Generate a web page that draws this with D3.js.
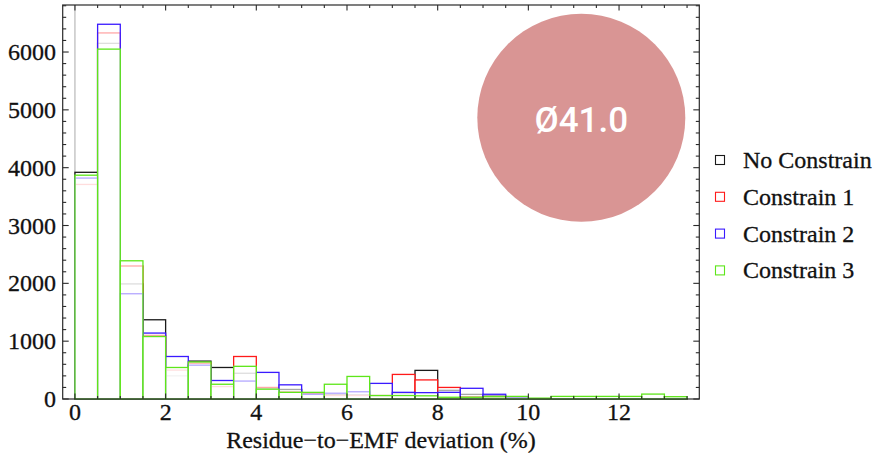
<!DOCTYPE html>
<html>
<head>
<meta charset="utf-8">
<script src="https://cdn.jsdelivr.net/npm/d3@7"></script>
<style>
  html, body { margin: 0; padding: 0; background: #fff; }
  svg { display: block; }
</style>
</head>
<body>
<svg id="chart" width="875" height="459"></svg>
<script>
// Histogram bins: left edges, width 0.5 (%)
const binStarts = [0, 0.5, 1, 1.5, 2, 2.5, 3, 3.5, 4, 4.5, 5, 5.5, 6, 6.5,
                   7, 7.5, 8, 8.5, 9, 9.5, 10, 10.5, 11, 11.5, 12, 12.5, 13];
const binWidth = 0.5;

// Counts per bin for each run
const noConstrain = [3920, 6150, 1990, 1370, 400, 655, 545, 445, 185, 165, 90, 80, 70, 50,
                     100, 495, 150, 80, 60, 30, 5, 5, 5, 5, 5, 5, 5];
const constrain1  = [3710, 6330, 2300, 1100, 500, 620, 215, 735, 200, 120, 85, 60, 60, 60,
                     425, 330, 200, 40, 20, 10, 5, 5, 5, 5, 5, 5, 5];
const constrain2  = [3820, 6480, 1820, 1140, 735, 585, 320, 310, 460, 245, 80, 100, 125, 270,
                     115, 110, 115, 185, 82, 20, 5, 5, 5, 5, 5, 5, 5];
const constrain3  = [3870, 6050, 2390, 1080, 545, 640, 255, 565, 170, 115, 115, 255, 390, 60,
                     60, 55, 30, 30, 40, 45, 15, 45, 45, 45, 45, 85, 40];

const seriesNames  = ["No Constrain", "Constrain 1", "Constrain 2", "Constrain 3"];
const seriesValues = [noConstrain, constrain1, constrain2, constrain3];
const seriesColors = ["#1a1a1a", "#ff1a1a", "#3a1aff", "#5ee61a"];

// Axis ticks
const xMajorTicks = [0, 2, 4, 6, 8, 10, 12];
const yMajorTicks = [0, 1000, 2000, 3000, 4000, 5000, 6000];

const badgeText = "Ø41.0";

const svg = d3.select("#chart");
const frame = { left: 62.7, right: 699.3, top: 5, bottom: 399 };

const x = d3.scaleLinear().domain([-0.27, 13.77]).range([frame.left, frame.right]);
const y = d3.scaleLinear().domain([0, 6813]).range([frame.bottom, frame.top]);

const serif = "'Liberation Serif', 'Times New Roman', serif";
const fontSize = 24;

// Serif label styling shared by ticks, title and legend
function serifText(sel) {
  return sel.attr("font-family", serif)
    .attr("font-size", fontSize)
    .attr("fill", "#111")
    .attr("stroke", "#111")
    .attr("stroke-width", 0.3);
}

// Vertical axis line at x = 0
svg.append("line")
  .attr("x1", x(0)).attr("x2", x(0))
  .attr("y1", frame.top).attr("y2", frame.bottom)
  .attr("stroke", "#b8b8b8").attr("stroke-width", 1.2);

// Histogram bars, drawn in series order; semi-opaque white faces dim the edges beneath
const barLayer = svg.append("g");
seriesValues.forEach((vals, si) => {
  barLayer.append("g")
    .selectAll("rect")
    .data(binStarts.map((b, i) => ({ b, v: vals[i] })))
    .join("rect")
    .attr("x", d => x(d.b))
    .attr("width", d => x(d.b + binWidth) - x(d.b))
    .attr("y", d => y(d.v))
    .attr("height", d => y(0) - y(d.v))
    .attr("fill", "#fff")
    .attr("fill-opacity", 0.62)
    .attr("stroke", seriesColors[si])
    .attr("stroke-width", 1.3);
});

// Frame
svg.append("rect")
  .attr("x", frame.left).attr("y", frame.top)
  .attr("width", frame.right - frame.left)
  .attr("height", frame.bottom - frame.top)
  .attr("fill", "none")
  .attr("stroke", "#2a2a2a").attr("stroke-width", 1.2);

// Frame ticks (inside, on all four sides)
const tickG = svg.append("g").attr("stroke", "#2a2a2a").attr("stroke-width", 1.1);
const xMinor = d3.range(0, 13.51, 0.5);
xMinor.forEach(v => {
  const major = xMajorTicks.includes(v);
  const len = major ? 5.5 : 3;
  tickG.append("line").attr("x1", x(v)).attr("x2", x(v))
    .attr("y1", frame.bottom).attr("y2", frame.bottom - len);
  tickG.append("line").attr("x1", x(v)).attr("x2", x(v))
    .attr("y1", frame.top).attr("y2", frame.top + len);
});
const yMinor = d3.range(0, 6801, 200);
yMinor.forEach(v => {
  const major = yMajorTicks.includes(v);
  const len = major ? 6 : 3.5;
  tickG.append("line").attr("x1", frame.left).attr("x2", frame.left + len)
    .attr("y1", y(v)).attr("y2", y(v));
  tickG.append("line").attr("x1", frame.right).attr("x2", frame.right - len)
    .attr("y1", y(v)).attr("y2", y(v));
});

// Tick labels
svg.append("g").selectAll("text")
  .data(xMajorTicks).join("text")
  .attr("x", d => x(d)).attr("y", 420)
  .attr("text-anchor", "middle")
  .call(serifText)
  .text(d => d);

svg.append("g").selectAll("text")
  .data(yMajorTicks).join("text")
  .attr("x", 56).attr("y", d => y(d))
  .attr("dy", "0.34em")
  .attr("text-anchor", "end")
  .call(serifText)
  .text(d => d);

// Axis title
svg.append("text")
  .attr("x", (frame.left + frame.right) / 2).attr("y", 448)
  .attr("text-anchor", "middle")
  .call(serifText)
  .text("Residue\u2212to\u2212EMF deviation (%)");

// Legend
const legend = svg.append("g");
seriesNames.forEach((name, i) => {
  const cy = 160 + i * 36.8;
  legend.append("rect")
    .attr("x", 715.5).attr("y", cy - 4.5)
    .attr("width", 9).attr("height", 9)
    .attr("fill", "#fff")
    .attr("stroke", seriesColors[i]).attr("stroke-width", 1.1);
  legend.append("text")
    .attr("x", 743).attr("y", cy).attr("dy", "0.33em")
    .call(serifText)
    .text(name);
});

// Badge
svg.append("circle")
  .attr("cx", 581.3).attr("cy", 117.8).attr("r", 104)
  .attr("fill", "#d99594");
svg.append("text")
  .attr("x", 581.3).attr("y", 119)
  .attr("dy", "0.36em")
  .attr("text-anchor", "middle")
  .attr("font-family", "Roboto, 'Open Sans', sans-serif")
  .attr("font-weight", 500)
  .attr("font-size", 35)
  .attr("fill", "#fff")
  .text(badgeText);
</script>
</body>
</html>
